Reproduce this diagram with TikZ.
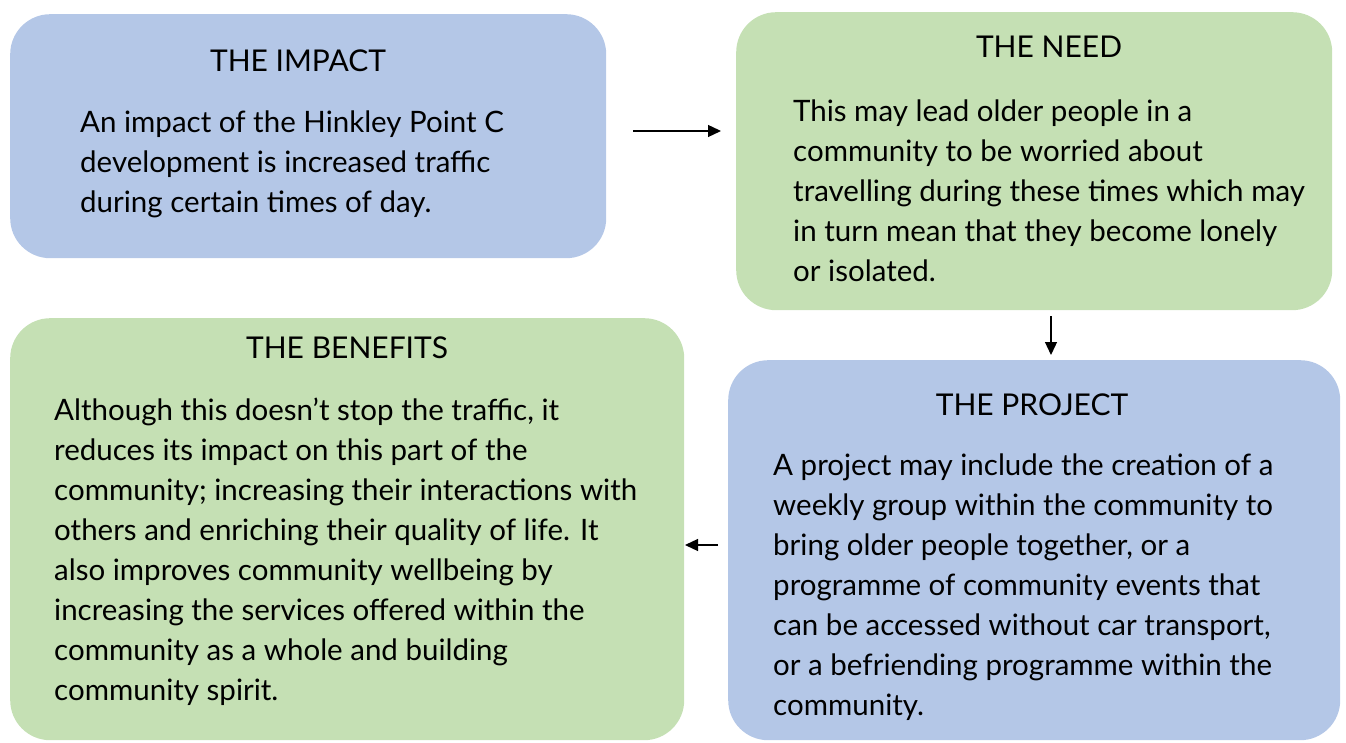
\documentclass[tikz,border=0pt]{standalone}
\usepackage{fontspec}
\setmainfont{Lato}
\usetikzlibrary{arrows.meta}
\definecolor{boxblue}{HTML}{B4C7E7}
\definecolor{boxgreen}{HTML}{C5E0B4}
\begin{document}
\begin{tikzpicture}[x=1pt,y=-1pt,
  card/.style={rounded corners=40pt, inner sep=0pt, anchor=north west},
  title/.style={font=\fontsize{30}{40}\selectfont, inner sep=0pt, anchor=base},
  body/.style={font=\fontsize{29.5}{40}\selectfont, inner sep=0pt, anchor=base west, align=left},
  arr/.style={line width=1.3pt, -{Triangle[length=13pt,width=12pt]}}]
\useasboundingbox (0,0) rectangle (1346,743);
% boxes
\node[card, fill=boxblue, minimum width=596pt, minimum height=244pt] (impact) at (10,14) {};
\node[card, fill=boxgreen, minimum width=596pt, minimum height=298pt] (need) at (736,12) {};
\node[card, fill=boxgreen, minimum width=674pt, minimum height=422pt] (benefits) at (10,318) {};
\node[card, fill=boxblue, minimum width=612pt, minimum height=380pt] (project) at (728,360) {};
% titles
\node[title] (t1) at (298,72) {THE IMPACT};
\node[title] (t2) at (1049,58) {THE NEED};
\node[title] (t3) at (347,358) {THE BENEFITS};
\node[title] (t4) at (1032,415) {THE PROJECT};
% bodies (anchor = baseline of last line)
\node[body] (b1) at (80,213) {An impact of the Hinkley Point C\\development is increased traffic\\during certain times of day.};
\node[body] (b2) at (793,282) {This may lead older people in a\\community to be worried about\\travelling during these times which may\\in turn mean that they become lonely\\or isolated.};
\node[body] (b3) at (54,700) {Although this doesn’t stop the traffic, it\\reduces its impact on this part of the\\community; increasing their interactions with\\others and enriching their quality of life. It\\also improves community wellbeing by\\increasing the services offered within the\\community as a whole and building\\community spirit.};
\node[body] (b4) at (773,715) {A project may include the creation of a\\weekly group within the community to\\bring older people together, or a\\programme of community events that\\can be accessed without car transport,\\or a befriending programme within the\\community.};
% arrows
\coordinate (a1s) at (633,131);
\coordinate (a1e) at (721,131);
\coordinate (a2s) at (1051,316);
\coordinate (a2e) at (1051,355);
\coordinate (a3s) at (718,545);
\coordinate (a3e) at (685,545);
\draw[arr] (a1s) -- (a1e);
\draw[arr] (a2s) -- (a2e);
\draw[arr] (a3s) -- (a3e);
\end{tikzpicture}
\end{document}
